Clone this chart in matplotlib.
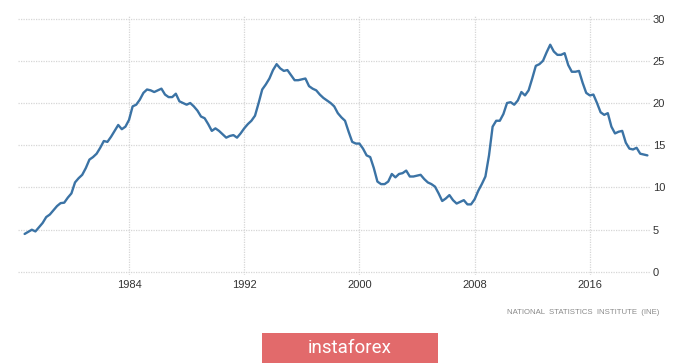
import matplotlib

matplotlib.use("Agg")
import matplotlib.pyplot as plt
import numpy as np
import pandas as pd
from matplotlib.patches import Rectangle

# Spain unemployment rate (%), quarterly, 1976Q3 .. 2019Q4
first_quarter = "1976Q3"
last_quarter = "2019Q4"
unemployment = [
    4.5, 4.75,
    5.0, 4.8, 5.3, 5.8,
    6.5, 6.8, 7.3, 7.8,
    8.15, 8.2, 8.8, 9.3,
    10.6, 11.1, 11.5, 12.3,
    13.3, 13.6, 14.0, 14.7,
    15.5, 15.4, 16.0, 16.7,
    17.4, 16.9, 17.2, 18.0,
    19.6, 19.8, 20.4, 21.2,
    21.6, 21.5, 21.3, 21.5,
    21.7, 21.0, 20.7, 20.7,
    21.1, 20.2, 20.0, 19.8,
    20.0, 19.6, 19.1, 18.4,
    18.2, 17.5, 16.7, 17.0,
    16.7, 16.3, 15.9, 16.1,
    16.2, 15.9, 16.4, 17.0,
    17.5, 17.9, 18.5, 20.0,
    21.6, 22.2, 22.9, 23.9,
    24.6, 24.1, 23.8, 23.9,
    23.3, 22.7, 22.7, 22.8,
    22.9, 22.0, 21.7, 21.5,
    21.0, 20.6, 20.3, 20.0,
    19.6, 18.8, 18.3, 17.9,
    16.6, 15.4, 15.2, 15.2,
    14.6, 13.8, 13.6, 12.3,
    10.7, 10.4, 10.4, 10.7,
    11.6, 11.2, 11.6, 11.7,
    12.0, 11.3, 11.3, 11.4,
    11.5, 11.0, 10.6, 10.4,
    10.1, 9.3, 8.4, 8.7,
    9.1, 8.5, 8.1, 8.3,
    8.5, 8.0, 8.0, 8.6,
    9.6, 10.4, 11.3, 13.8,
    17.2, 17.9, 17.9, 18.7,
    20.0, 20.1, 19.8, 20.3,
    21.3, 20.9, 21.5, 22.9,
    24.4, 24.6, 25.0, 26.0,
    26.9, 26.1, 25.7, 25.7,
    25.9, 24.5, 23.7, 23.7,
    23.8, 22.4, 21.2, 20.9,
    21.0, 20.0, 18.9, 18.6,
    18.8, 17.2, 16.4, 16.6,
    16.7, 15.3, 14.6, 14.5,
    14.7, 14.0, 13.9, 13.8,
]
x_ticks = [1984, 1992, 2000, 2008, 2016]
y_ticks = [0, 5, 10, 15, 20, 25, 30]
source_text = "NATIONAL  STATISTICS  INSTITUTE  (INE)"
brand_text = "instaforex"

periods = pd.period_range(first_quarter, last_quarter, freq="Q")
# position each quarter at its end, as a decimal year
t = np.array([p.year + p.quarter / 4.0 for p in periods])
y = np.asarray(unemployment, dtype=float)

W, H = 700, 363
fig = plt.figure(figsize=(W / 100, H / 100), dpi=100)
fig.patch.set_facecolor("white")

top_px, bot_px = 16.0, 274.5
left_px, right_px = 18.0, 650.0
ax = fig.add_axes([left_px / W, (H - bot_px) / H, (right_px - left_px) / W, (bot_px - top_px) / H])
ax.set_xlim(1976.29, 2020.18)
ax.set_ylim(-0.3, 30.3)

ax.plot(t, y, color="#3b73a5", lw=1.7, solid_joinstyle="round", solid_capstyle="round", zorder=3)

ax.set_xticks(x_ticks)
ax.set_xticklabels([str(v) for v in x_ticks])
ax.set_yticks(y_ticks)
ax.yaxis.tick_right()
ax.tick_params(axis="both", length=0, labelsize=8, labelcolor="#333333")
ax.tick_params(axis="y", pad=2)
ax.tick_params(axis="x", pad=4)
for lab in ax.get_xticklabels() + ax.get_yticklabels():
    lab.set_family("Liberation Sans")

ax.grid(True, color="#d6d6d6", ls=(0, (1, 1)), lw=0.9)
ax.set_axisbelow(True)
for sp in ax.spines.values():
    sp.set_visible(False)

fig.text(659 / W, 1 - 313 / H, source_text, ha="right", va="center",
         fontsize=5.6, color="#8a8a8a", family="Liberation Sans")

btn_l, btn_r, btn_t = 262, 438, 333
fig.patches.append(Rectangle((btn_l / W, 0), (btn_r - btn_l) / W, (H - btn_t) / H,
                             transform=fig.transFigure, facecolor="#e26a6b",
                             edgecolor="none", zorder=1))
fig.text((btn_l + btn_r) / 2 / W, 1 - 348 / H, brand_text, ha="center", va="center",
         fontsize=13.5, color="white", family="Roboto", zorder=2)

fig.savefig("out.png", dpi=100, facecolor="white")
plt.close(fig)
